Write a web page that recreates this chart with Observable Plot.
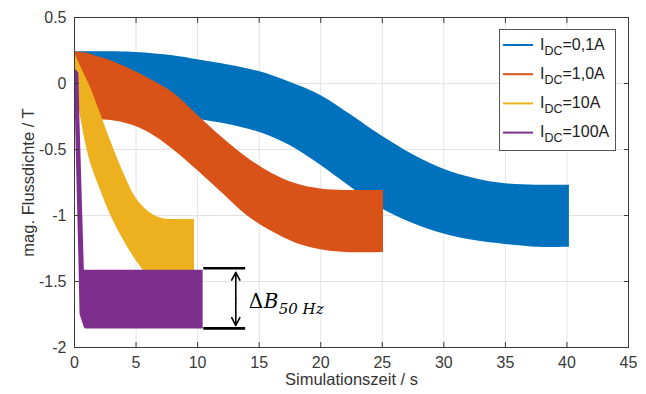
<!DOCTYPE html>
<html>
<head>
<meta charset="utf-8">
<script src="https://cdn.jsdelivr.net/npm/d3@7"></script>
<script src="https://cdn.jsdelivr.net/npm/@observablehq/plot@0.6"></script>
<style>
  body { margin: 0; background: #fff; }
  #wrap { position: relative; width: 646px; height: 394px; background: #fff; }
  #legend { position: absolute; left: 499px; top: 29px; }
</style>
</head>
<body>
<div id="wrap"></div>
<script>
// ---- data ----
const seriesLabels = ["=0,1A", "=1,0A", "=10A", "=100A"];
const seriesColors = ["#0072BD", "#D95319", "#EDB120", "#7E2F8E"];

const blueX  = [0, 0.5, 2, 5, 8, 10, 12.5, 15, 17.5, 20, 22.5, 25, 27.5, 30, 32.5, 35, 37.5, 40.2];
const blueHi = [0.24, 0.24, 0.24, 0.235, 0.21, 0.18, 0.14, 0.09, 0.01, -0.09, -0.24, -0.40, -0.54, -0.65, -0.72, -0.76, -0.77, -0.77];
const blueLo = [0.24, -0.10, -0.20, -0.22, -0.24, -0.27, -0.31, -0.37, -0.47, -0.62, -0.79, -0.95, -1.06, -1.14, -1.19, -1.22, -1.24, -1.24];

const orangeX  = [0, 0.5, 1, 2, 3, 4.5, 6, 8, 10, 12, 14, 16, 18, 20, 22, 25.1];
const orangeHi = [0.24, 0.235, 0.23, 0.20, 0.17, 0.11, 0.04, -0.07, -0.24, -0.41, -0.56, -0.68, -0.76, -0.80, -0.81, -0.81];
const orangeLo = [0.24, -0.05, -0.20, -0.27, -0.28, -0.31, -0.37, -0.50, -0.66, -0.83, -1.00, -1.12, -1.21, -1.26, -1.28, -1.28];

const yellowX  = [0, 0.3, 0.75, 1.3, 2, 3, 4, 5, 6, 6.5, 7, 8, 9.75];
const yellowHi = [0.24, 0.17, 0.08, -0.03, -0.20, -0.45, -0.68, -0.87, -0.97, -1.00, -1.02, -1.03, -1.03];
const yellowLo = [0.20, -0.13, -0.38, -0.60, -0.78, -1.01, -1.19, -1.34, -1.46, -1.50, -1.52, -1.52, -1.52];

const purpleX  = [0, 0.15, 0.35, 0.45, 0.8, 0.9, 1.2, 10.45];
const purpleHi = [0.11, 0.10, 0.08, -0.30, -1.415, -1.415, -1.415, -1.415];
const purpleLo = [0.11, -0.55, -1.30, -1.75, -1.85, -1.86, -1.86, -1.86];

const xTicks = [0, 5, 10, 15, 20, 25, 30, 35, 40, 45];
const yTicks = [0.5, 0, -0.5, -1, -1.5, -2];

// annotation (data coordinates)
const annotLinesY = [-1.40, -1.855];
const annotLineX = [10.5, 13.9];
const annotArrowX = 13.1;
const annotArrowY = [-1.43, -1.833];
const annotTextX = 14.15;
const annotTextY = -1.697;

// ---- build tables ----
const toRows = (xs, hi, lo) => xs.map((x, i) => ({x, hi: hi[i], lo: lo[i]}));
const bands = [
  toRows(blueX, blueHi, blueLo),
  toRows(orangeX, orangeHi, orangeLo),
  toRows(yellowX, yellowHi, yellowLo),
  toRows(purpleX, purpleHi, purpleLo)
];
const curves = ["catmull-rom", "catmull-rom", "catmull-rom", "linear"];

const axisColor = "#3a3a3a";
const midY = (annotArrowY[0] + annotArrowY[1]) / 2;

const chart = Plot.plot({
  width: 646,
  height: 394,
  marginLeft: 74,
  marginRight: 18,
  marginTop: 17,
  marginBottom: 47,
  x: {domain: [0, 45]},
  y: {domain: [-2, 0.5]},
  style: {fontFamily: "'Liberation Sans', Arial, sans-serif", fontSize: "16px", color: "#333", background: "#fff"},
  marks: [
    Plot.gridX(xTicks, {stroke: "#e3e3e3", strokeOpacity: 1}),
    Plot.gridY(yTicks, {stroke: "#e3e3e3", strokeOpacity: 1}),
    ...bands.map((b, i) => Plot.areaY(b, {x: "x", y1: "lo", y2: "hi", fill: seriesColors[i], curve: curves[i]})),
    Plot.frame({stroke: axisColor, strokeWidth: 1}),
    Plot.axisX({ticks: xTicks, tickSize: -5, tickPadding: 14, tickFormat: d => String(d), label: null, color: axisColor, fontSize: 16}),
    Plot.axisX({anchor: "top", ticks: xTicks, tickSize: -5, tickFormat: () => "", label: null, color: axisColor}),
    Plot.axisY({ticks: yTicks, tickSize: -5, tickPadding: 13, tickFormat: d => String(d), label: null, color: axisColor, fontSize: 16}),
    Plot.axisY({anchor: "right", ticks: yTicks, tickSize: -5, tickFormat: () => "", label: null, color: axisColor}),
    Plot.text(["Simulationszeit / s"], {frameAnchor: "bottom", dy: 37, fill: "#333", fontSize: 16.5}),
    Plot.text(["mag. Flussdichte / T"], {x: 0, y: -0.75, dx: -46, rotate: -90, fill: "#333", fontSize: 16.5}),
    // annotation
    Plot.ruleY(annotLinesY, {y: d => d, x1: annotLineX[0], x2: annotLineX[1], stroke: "#000", strokeWidth: 2.6}),
    Plot.arrow([0, 1], {x1: annotArrowX, y1: midY, x2: annotArrowX, y2: i => annotArrowY[i], stroke: "#000", strokeWidth: 1.6, headLength: 13, headAngle: 55}),
    Plot.text(["Δ"], {x: annotTextX, y: annotTextY, textAnchor: "start", lineAnchor: "bottom", fontFamily: "'DejaVu Serif', serif", fontSize: 20, fill: "#000"}),
    Plot.text(["B"], {x: annotTextX, y: annotTextY, dx: 15, textAnchor: "start", lineAnchor: "bottom", fontFamily: "'DejaVu Serif', serif", fontStyle: "italic", fontSize: 20, fill: "#000"}),
    Plot.text(["50 Hz"], {x: annotTextX, y: annotTextY, dx: 30, dy: 6, textAnchor: "start", lineAnchor: "bottom", fontFamily: "'DejaVu Serif', serif", fontStyle: "italic", fontSize: 15, fill: "#000"})
  ]
});

const wrap = document.getElementById("wrap");
wrap.appendChild(chart);

// ---- legend ----
const lw = 117, lh = 122;
const leg = d3.create("svg").attr("id", "legend").attr("width", lw).attr("height", lh)
  .style("font-family", "'Liberation Sans', Arial, sans-serif");
leg.append("rect").attr("x", 0.5).attr("y", 0.5).attr("width", lw - 1).attr("height", lh - 1)
  .attr("fill", "#fff").attr("stroke", "#555").attr("stroke-width", 1);
seriesLabels.forEach((lab, i) => {
  const yl = 16 + 29.2 * i;
  leg.append("line").attr("x1", 4).attr("x2", 34).attr("y1", yl).attr("y2", yl)
    .attr("stroke", seriesColors[i]).attr("stroke-width", 2);
  const t = leg.append("text").attr("x", 41).attr("y", yl + 4.5).attr("fill", "#222").attr("font-size", 16);
  t.append("tspan").text("I");
  t.append("tspan").attr("font-size", 12.5).attr("dy", 5).text("DC");
  t.append("tspan").attr("dy", -5).text(lab);
});
wrap.appendChild(leg.node());
</script>
</body>
</html>
